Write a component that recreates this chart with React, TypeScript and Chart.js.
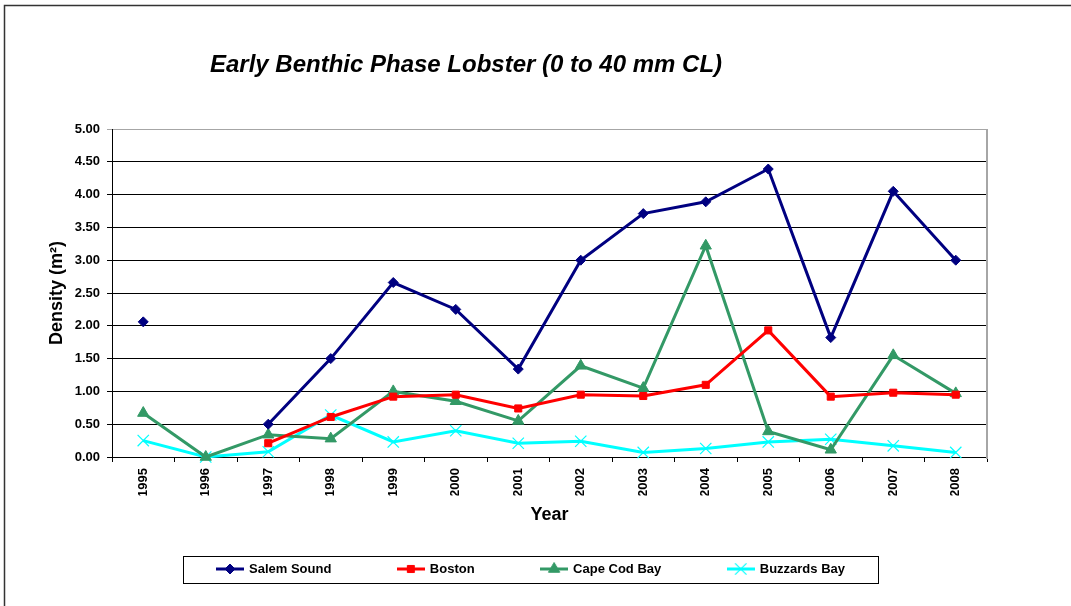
import React, { useEffect, useRef } from 'react';
import { Chart, registerables } from 'chart.js';

Chart.register(...registerables);

const chartTitle = 'Early Benthic Phase Lobster (0 to 40 mm CL)';
const xAxisTitle = 'Year';
const yAxisTitle = 'Density (m²)';

const years = ['1995', '1996', '1997', '1998', '1999', '2000', '2001', '2002', '2003', '2004', '2005', '2006', '2007', '2008'];

const salemSound = [2.06, null, 0.5, 1.5, 2.66, 2.25, 1.34, 3.0, 3.71, 3.89, 4.39, 1.82, 4.05, 3.0];
const boston = [null, null, 0.21, 0.61, 0.92, 0.95, 0.74, 0.95, 0.93, 1.1, 1.93, 0.92, 0.98, 0.95];
const capeCodBay = [0.67, 0.0, 0.34, 0.28, 1.0, 0.85, 0.55, 1.39, 1.05, 3.22, 0.39, 0.11, 1.55, 0.97];
const buzzardsBay = [0.25, 0.0, 0.08, 0.64, 0.23, 0.4, 0.21, 0.24, 0.07, 0.13, 0.23, 0.27, 0.17, 0.07];

const yMin = 0;
const yMax = 5;
const yStep = 0.5;

const seriesNames = ['Salem Sound', 'Boston', 'Cape Cod Bay', 'Buzzards Bay'];
const seriesColors = ['#000080', '#FF0000', '#339966', '#00FFFF'];
const seriesMarkers = ['rectRot', 'rect', 'triangle', 'crossRot'];
const markerRadius = [5, 5, 6.5, 8];

const FONT = '"Liberation Sans", Arial, Helvetica, sans-serif';

function drawMarker(ctx: CanvasRenderingContext2D, style: string, x: number, y: number, r: number, color: string) {
  ctx.fillStyle = color;
  ctx.strokeStyle = color;
  ctx.lineWidth = 1;
  ctx.beginPath();
  if (style === 'rectRot') {
    ctx.moveTo(x, y - r);
    ctx.lineTo(x + r, y);
    ctx.lineTo(x, y + r);
    ctx.lineTo(x - r, y);
    ctx.closePath();
    ctx.fill();
    ctx.stroke();
  } else if (style === 'rect') {
    const s = r * Math.SQRT1_2;
    ctx.rect(x - s, y - s, 2 * s, 2 * s);
    ctx.fill();
    ctx.stroke();
  } else if (style === 'triangle') {
    const a = (2 * Math.PI) / 3;
    ctx.moveTo(x, y - r);
    ctx.lineTo(x + Math.sin(a) * r, y - Math.cos(a) * r);
    ctx.lineTo(x - Math.sin(a) * r, y - Math.cos(a) * r);
    ctx.closePath();
    ctx.fill();
    ctx.stroke();
  } else {
    const d = r * Math.SQRT1_2;
    ctx.lineWidth = 1.2;
    ctx.moveTo(x - d, y - d);
    ctx.lineTo(x + d, y + d);
    ctx.moveTo(x - d, y + d);
    ctx.lineTo(x + d, y - d);
    ctx.stroke();
  }
}

function makeLegendImage(color: string, style: string, r: number) {
  const c = document.createElement('canvas');
  c.width = 28;
  c.height = 16;
  const ctx = c.getContext('2d')!;
  ctx.strokeStyle = color;
  ctx.lineWidth = 3;
  ctx.beginPath();
  ctx.moveTo(0, 8);
  ctx.lineTo(28, 8);
  ctx.stroke();
  drawMarker(ctx, style, 14, 8, r, color);
  return c;
}

const decorPlugin = {
  id: 'decor',
  beforeDatasetsDraw(chart: any) {
    const { ctx, chartArea } = chart;
    ctx.save();
    ctx.strokeStyle = '#a6a6a6';
    ctx.lineWidth = 2;
    ctx.beginPath();
    ctx.moveTo(chartArea.right, chartArea.top);
    ctx.lineTo(chartArea.right, chartArea.bottom + 2);
    ctx.stroke();
    ctx.restore();
  },
  afterDraw(chart: any) {
    const { ctx } = chart;
    ctx.save();
    // outer chart frame
    ctx.strokeStyle = '#333';
    ctx.lineWidth = 1.5;
    ctx.beginPath();
    ctx.moveTo(4.5, chart.height);
    ctx.lineTo(4.5, 5.5);
    ctx.lineTo(chart.width, 5.5);
    ctx.stroke();
    // title
    ctx.fillStyle = '#000';
    ctx.font = `italic bold 24px ${FONT}`;
    ctx.textAlign = 'center';
    ctx.textBaseline = 'alphabetic';
    ctx.fillText(chartTitle, 466, 72);
    // legend frame
    const hb = chart.legend && chart.legend.legendHitBoxes;
    if (hb && hb.length) {
      const first = hb[0];
      const last = hb[hb.length - 1];
      const left = Math.round(first.left - 34.5) + 0.5;
      const right = Math.round(last.left + last.width + 33) + 0.5;
      const top = Math.round(first.top - 7) + 0.5;
      ctx.strokeStyle = '#000';
      ctx.lineWidth = 1;
      ctx.strokeRect(left, top, right - left, 27);
    }
    ctx.restore();
  },
};

export default function App() {
  const canvasRef = useRef<HTMLCanvasElement | null>(null);

  useEffect(() => {
    document.body.style.margin = '0';
    const canvas = canvasRef.current;
    if (!canvas) return;
    const legendImages = seriesColors.map((c, i) => makeLegendImage(c, seriesMarkers[i], markerRadius[i]));
    const seriesData = [salemSound, boston, capeCodBay, buzzardsBay];

    const tickFont = { family: FONT, size: 13, weight: 'bold' as const };
    const titleFont = { family: FONT, size: 18, weight: 'bold' as const, lineHeight: 1.2 };

    const chart = new Chart(canvas, {
      type: 'line',
      data: {
        labels: years,
        datasets: seriesNames.map((name, i) => ({
          label: name,
          data: seriesData[i],
          borderColor: seriesColors[i],
          backgroundColor: seriesColors[i],
          borderWidth: 3,
          pointStyle: seriesMarkers[i] as any,
          pointRadius: markerRadius[i],
          pointBorderWidth: i === 3 ? 1.2 : 1,
          pointBackgroundColor: seriesColors[i],
          pointBorderColor: seriesColors[i],
          tension: 0,
          spanGaps: false,
          clip: false as any,
          yAxisID: 'y',
        })),
      },
      options: {
        responsive: false,
        animation: false,
        events: [],
        layout: { padding: { left: 0, right: 8.5, top: 129, bottom: 20.5 } },
        plugins: {
          title: { display: false },
          tooltip: { enabled: false },
          legend: {
            display: true,
            position: 'bottom',
            labels: {
              usePointStyle: true,
              pointStyleWidth: 25,
              padding: 67,
              color: '#000',
              font: tickFont,
              generateLabels: (ch: any) => {
                const items = (Chart.defaults as any).plugins.legend.labels.generateLabels(ch);
                return items.map((it: any, i: number) => ({ ...it, pointStyle: legendImages[i] }));
              },
            },
          },
        },
        scales: {
          x: {
            type: 'category',
            offset: true,
            grid: {
              display: true,
              drawOnChartArea: false,
              drawTicks: true,
              tickLength: 5,
              offset: true,
              color: '#000',
            },
            border: { display: true, color: '#000', width: 1 },
            ticks: {
              minRotation: 90,
              maxRotation: 90,
              autoSkip: false,
              padding: 6,
              color: '#000',
              font: tickFont,
            },
            title: {
              display: true,
              text: xAxisTitle,
              color: '#000',
              font: titleFont,
              padding: { top: 0, bottom: -30.3 },
            },
            afterFit: (s: any) => {
              s.height = 38.5;
            },
          },
          y: {
            type: 'linear',
            position: 'left',
            min: yMin,
            max: yMax,
            grid: {
              color: (c: any) => (c.tick && c.tick.value === yMax ? '#a6a6a6' : '#000'),
              lineWidth: 1,
              tickLength: 5,
            },
            border: { display: true, color: '#000', width: 1 },
            ticks: {
              stepSize: yStep,
              padding: 7,
              color: '#000',
              font: tickFont,
              callback: (v: any) => Number(v).toFixed(2),
            },
            title: {
              display: true,
              text: yAxisTitle,
              color: '#000',
              font: titleFont,
              padding: { top: 46.2, bottom: 0 },
            },
            afterFit: (s: any) => {
              s.width = 112;
            },
          },
          yRight: {
            type: 'linear',
            position: 'right',
            display: true,
            grid: { display: false },
            border: { display: false },
            ticks: { display: false },
            afterFit: (s: any) => {
              s.width = 75.5;
            },
          },
        },
      } as any,
      plugins: [decorPlugin],
    });

    return () => {
      chart.destroy();
    };
  }, []);

  return (
    <div style={{ width: 1071, height: 606, background: '#fff' }}>
      <canvas ref={canvasRef} width={1071} height={606} style={{ display: 'block' }} />
    </div>
  );
}
